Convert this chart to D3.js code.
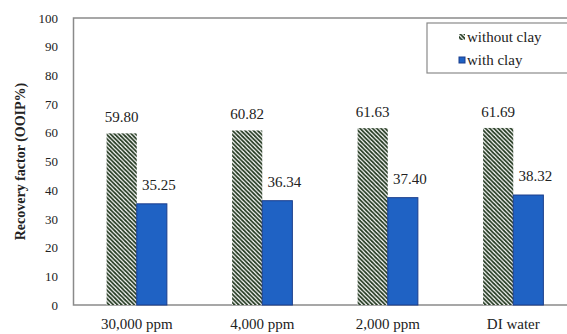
<!DOCTYPE html>
<html>
<head>
<meta charset="utf-8">
<script src="https://cdn.jsdelivr.net/npm/d3@7"></script>
<style>
  html, body { margin: 0; padding: 0; background: #fff; }
  svg { display: block; }
  svg text { font-family: "Times New Roman", "Liberation Serif", "DejaVu Serif", serif; fill: #222; }
</style>
</head>
<body>
<svg id="chart" width="567" height="334"></svg>
<script>
// Brine salinity cases
const categories = ["30,000 ppm", "4,000 ppm", "2,000 ppm", "DI water"];
const series = ["without clay", "with clay"];
const withoutClay = [59.80, 60.82, 61.63, 61.69];
const withClay = [35.25, 36.34, 37.40, 38.32];
const yTicks = [0, 10, 20, 30, 40, 50, 60, 70, 80, 90, 100];

const valuesBySeries = { "without clay": withoutClay, "with clay": withClay };
const serif = '"Times New Roman", "Liberation Serif", "DejaVu Serif", serif';

const svg = d3.select("#chart");
const plotLeft = 74, plotRight = 576, plotTop = 18, plotBottom = 305;

// hatch pattern for the "without clay" bars
const defs = svg.append("defs");
const pat = defs.append("pattern")
  .attr("id", "hatch")
  .attr("patternUnits", "userSpaceOnUse")
  .attr("width", 4.2).attr("height", 4.2);
pat.append("rect").attr("width", 4.2).attr("height", 4.2).attr("fill", "#fff");
pat.append("path")
  .attr("d", "M-1,-1 L5.2,5.2 M-1,3.2 L1,5.2 M3.2,-1 L5.2,1")
  .attr("stroke", "#22381f").attr("stroke-width", 1.7);

const x = d3.scaleBand().domain(categories).range([plotLeft, plotRight])
  .paddingInner(0.52).paddingOuter(0.26);
const xs = d3.scaleBand().domain(series).range([0, x.bandwidth()]);
const y = d3.scaleLinear().domain([0, 100]).range([plotBottom, plotTop]);

// label placement per series (offsets relative to the bar top / centre)
const labelDx = { "without clay": 0, "with clay": 7 };
const labelDy = { "without clay": -11, "with clay": -14 };

// plot frame
svg.append("rect")
  .attr("x", plotLeft - 0.5).attr("y", plotTop)
  .attr("width", plotRight - plotLeft + 10).attr("height", plotBottom - plotTop)
  .attr("fill", "none").attr("stroke", "#8a8a8a").attr("stroke-width", 1.5);

// y axis labels
const yAxis = d3.axisLeft(y).tickValues(yTicks).tickSize(0).tickPadding(16);
const gy = svg.append("g").attr("transform", `translate(${plotLeft},0)`).call(yAxis)
  .attr("font-family", serif);
gy.select(".domain").remove();
gy.selectAll("text").attr("font-size", 13).attr("fill", "#222");

// x axis labels
const xAxis = d3.axisBottom(x).tickSize(0).tickPadding(13);
const gx = svg.append("g").attr("transform", `translate(0,${plotBottom})`).call(xAxis)
  .attr("font-family", serif);
gx.select(".domain").remove();
gx.selectAll("text").attr("font-size", 15).attr("fill", "#222");

// bars
const groups = svg.append("g").selectAll("g")
  .data(categories).join("g")
  .attr("transform", d => `translate(${x(d)},0)`);

series.forEach(s => {
  const vals = valuesBySeries[s];
  groups.append("rect")
    .attr("x", xs(s))
    .attr("y", (d, i) => y(vals[i]))
    .attr("width", xs.bandwidth())
    .attr("height", (d, i) => y(0) - y(vals[i]))
    .attr("fill", s === "with clay" ? "#1f62c4" : "url(#hatch)")
    .attr("stroke", s === "with clay" ? "#1a3d8c" : "none")
    .attr("stroke-width", 1);
  groups.append("text")
    .attr("x", xs(s) + xs.bandwidth() / 2 + labelDx[s])
    .attr("y", (d, i) => y(vals[i]) + labelDy[s])
    .attr("text-anchor", "middle")
    .attr("font-family", serif)
    .attr("font-size", 15)
    .text((d, i) => vals[i].toFixed(2));
});

// axis title
svg.append("text")
  .attr("transform", `translate(25,161.5) rotate(-90)`)
  .attr("text-anchor", "middle")
  .attr("font-family", serif)
  .attr("font-size", 14)
  .attr("font-weight", "bold")
  .text("Recovery factor (OOIP%)");

// legend
const lg = svg.append("g");
lg.append("rect")
  .attr("x", 427).attr("y", 23).attr("width", 160).attr("height", 50)
  .attr("fill", "#fff").attr("stroke", "#8a8a8a").attr("stroke-width", 1.2);
const legendRows = series.map((s, i) => ({ s, yy: 37 + i * 23 }));
const lr = lg.selectAll("g").data(legendRows).join("g")
  .attr("transform", d => `translate(459,${d.yy})`);
lr.append("rect")
  .attr("x", 0).attr("y", -3).attr("width", 6).attr("height", 6)
  .attr("fill", d => d.s === "with clay" ? "#1f62c4" : "url(#hatch)")
  .attr("stroke", d => d.s === "with clay" ? "#1a3d8c" : "none");
lr.append("text")
  .attr("x", 8).attr("y", 5)
  .attr("font-family", serif)
  .attr("font-size", 15)
  .text(d => d.s);
</script>
</body>
</html>
